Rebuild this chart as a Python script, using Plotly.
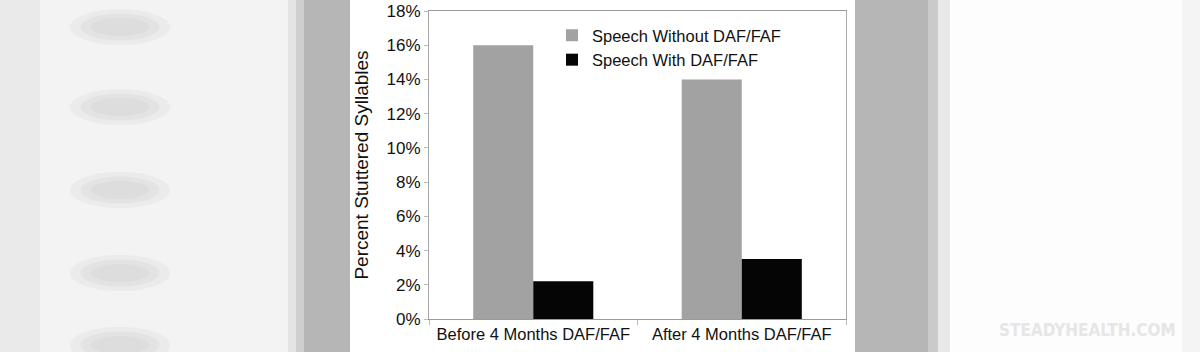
import plotly.graph_objects as go

categories = ["Before 4 Months DAF/FAF", "After 4 Months DAF/FAF"]
without_daf = [16.0, 14.0]
with_daf = [2.2, 3.5]
y_ticks = [0, 2, 4, 6, 8, 10, 12, 14, 16, 18]
y_tick_labels = [f"{v}%" for v in y_ticks]

W, H = 1200, 352
L, R, T, B = 429, 846, 11, 319


def px(x):
    return (x - L) / (R - L)


def py(y):
    return (B - y) / (B - T)


fig = go.Figure()
fig.add_trace(go.Bar(x=categories, y=without_daf, name="Speech Without DAF/FAF",
                     marker=dict(color="#a2a2a2", line=dict(width=0))))
fig.add_trace(go.Bar(x=categories, y=with_daf, name="Speech With DAF/FAF",
                     marker=dict(color="#050505", line=dict(width=0))))

shapes = []
# outer background
shapes.append(dict(type="rect", xref="paper", yref="paper", x0=px(0), x1=px(292), y0=py(H + 5), y1=py(-5),
                   fillcolor="#f3f3f3", line=dict(width=0), layer="below"))
# blurred blobs on the left
for cy in [27, 107, 190, 273, 345]:
    for k, op in [(1.0, 0.25), (0.75, 0.3), (0.5, 0.35)]:
        shapes.append(dict(type="circle", xref="paper", yref="paper",
                           x0=px(120 - 42 * k - 8), x1=px(120 + 42 * k + 8),
                           y0=py(cy + 18 * k), y1=py(cy - 18 * k),
                           fillcolor="#d2d2d2", opacity=op, line=dict(width=0), layer="below"))
# left vertical faint band
shapes.append(dict(type="rect", xref="paper", yref="paper", x0=px(0), x1=px(40), y0=py(H + 5), y1=py(-5),
                   fillcolor="#e2e2e2", opacity=0.5, line=dict(width=0), layer="below"))
# grey shadow bands next to the chart panel (gradient via strips)
for x0, x1, c in [(288, 296, "#e4e4e4"), (296, 304, "#cfcfcf"), (304, 350, "#b6b6b6"),
                  (855, 928, "#b6b6b6"), (928, 938, "#cacaca"), (938, 950, "#e8e8e8")]:
    shapes.append(dict(type="rect", xref="paper", yref="paper", x0=px(x0), x1=px(x1), y0=py(H + 5), y1=py(-5),
                       fillcolor=c, line=dict(width=0), layer="below"))
shapes.append(dict(type="rect", xref="paper", yref="paper", x0=px(950), x1=px(W + 5), y0=py(H + 5), y1=py(-5),
                   fillcolor="#fdfdfd", line=dict(width=0), layer="below"))
shapes.append(dict(type="rect", xref="paper", yref="paper", x0=px(1182), x1=px(W + 5), y0=py(H + 5), y1=py(-5),
                   fillcolor="#f4f4f4", line=dict(width=0), layer="below"))
# white chart panel
shapes.append(dict(type="rect", xref="paper", yref="paper", x0=px(350), x1=px(855), y0=py(H + 5), y1=py(-5),
                   fillcolor="#ffffff", line=dict(width=0), layer="below"))

fig.update_layout(
    width=W, height=H,
    margin=dict(l=L, r=W - R, t=T, b=H - B, pad=0, autoexpand=False),
    paper_bgcolor="#f4f4f4",
    plot_bgcolor="#ffffff",
    font=dict(family="Liberation Sans, Arial, sans-serif", color="#111111", size=16),
    barmode="group",
    bargap=0.424,
    bargroupgap=0,
    shapes=shapes,
    showlegend=True,
    legend=dict(x=px(552), y=py(18), xanchor="left", yanchor="top",
                bgcolor="rgba(0,0,0,0)", borderwidth=0,
                font=dict(size=16.5, color="#111111"),
                itemwidth=30, tracegroupgap=0),
    xaxis=dict(showline=True, linecolor="#9a9a9a", linewidth=1, mirror=True, automargin=False,
               ticks="outside", tickson="boundaries", ticklen=5, tickcolor="#bbbbbb",
               tickfont=dict(size=16.5), showgrid=False),
    yaxis=dict(range=[0, 18], tickvals=y_ticks, ticktext=y_tick_labels, automargin=False,
               showline=True, linecolor="#a8a8a8", linewidth=1, mirror=True,
               ticks="outside", ticklen=4, tickcolor="#bbbbbb", showgrid=False,
               tickfont=dict(size=17),
               title=dict(text="Percent Stuttered Syllables", font=dict(size=19), standoff=12)),
    annotations=[dict(text="<b>STEADYHEALTH.COM</b>", xref="paper", yref="paper",
                      x=px(1087), y=py(330), xanchor="center", yanchor="middle", showarrow=False,
                      font=dict(family="DejaVu Sans Condensed, DejaVu Sans, sans-serif", size=17, color="#e6e6e6"))],
)

fig.write_html("out.html")
